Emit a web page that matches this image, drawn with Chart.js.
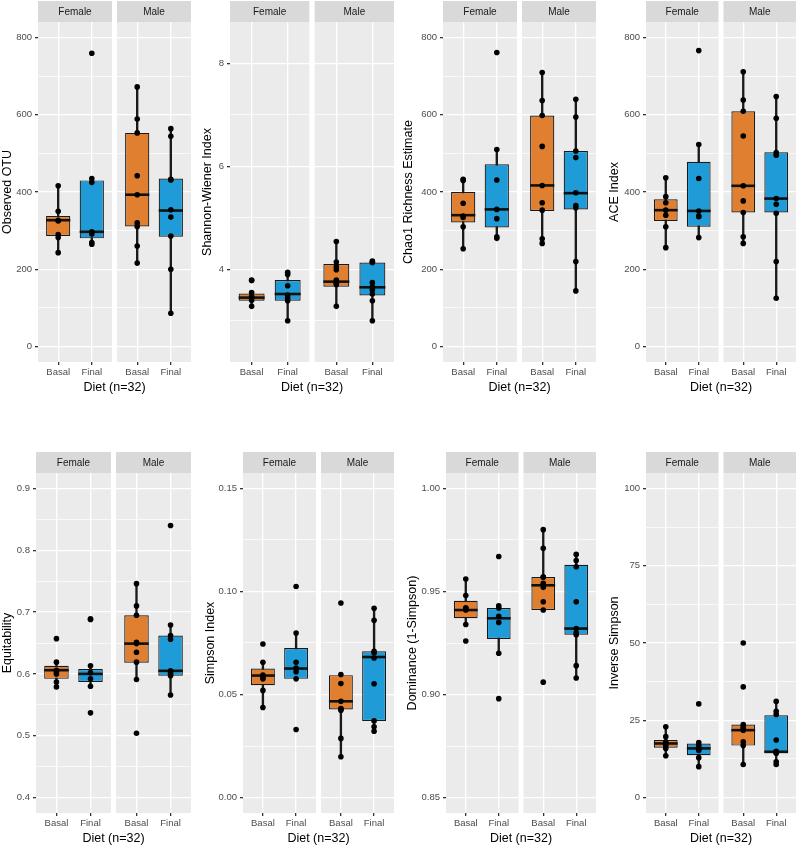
<!DOCTYPE html>
<html>
<head>
<meta charset="utf-8">
<script src="https://cdn.jsdelivr.net/npm/chart.js@4.4.1/dist/chart.umd.min.js"></script>
<style>
  body { margin: 0; background: #fff; width: 800px; height: 847px; overflow: hidden; position: relative; }
  canvas { position: absolute; }
</style>
</head>
<body>
<script>
// groups in every array: Female Basal, Female Final, Male Basal, Male Final
const facets = ['Female', 'Male'];
const diets = ['Basal', 'Final'];
const xTitle = 'Diet (n=32)';

// jittered sample points
const otuPts = [
  [416, 350, 327, 325, 290, 282, 243],
  [759, 435, 425, 297, 291, 269, 265],
  [672, 589, 553, 442, 393, 320, 311, 260, 216],
  [564, 544, 433, 431, 354, 335, 286, 200, 86]
];
// box stats: lower whisker, q1, median, q3, upper whisker
const otuBox = [[243, 286, 327, 338, 416], [265, 280, 297, 430, 435], [216, 311, 393, 553, 672], [86, 284, 352, 435, 564]];
const otuTicks = ['0', '200', '400', '600', '800'];

const shPts = [
  [3.79, 3.78, 3.55, 3.47, 3.44, 3.40, 3.28],
  [3.94, 3.90, 3.68, 3.50, 3.44, 3.39, 3.00],
  [4.54, 4.14, 4.05, 3.99, 3.79, 3.77, 3.73, 3.70, 3.28],
  [4.16, 4.14, 4.13, 3.74, 3.66, 3.60, 3.52, 3.39, 3.00]
];
const shBox = [[3.28, 3.39, 3.45, 3.53, 3.55], [3.00, 3.39, 3.52, 3.79, 3.94], [3.28, 3.66, 3.76, 4.10, 4.54], [3.00, 3.49, 3.65, 4.13, 4.16]];
const shTicks = ['4', '6', '8'];

const chaoPts = [
  [433, 430, 371, 338, 334, 310, 253],
  [761, 510, 431, 355, 331, 284, 280],
  [709, 637, 598, 518, 417, 372, 353, 279, 267],
  [640, 594, 506, 489, 398, 365, 359, 220, 144]
];
const chaoBox = [[253, 321, 340, 400, 433], [280, 308, 355, 472, 510], [267, 351, 417, 598, 709], [144, 355, 397, 506, 640]];
const chaoTicks = ['0', '200', '400', '600', '800'];

const acePts = [
  [437, 388, 372, 353, 340, 310, 256],
  [766, 523, 435, 351, 338, 336, 282],
  [711, 638, 609, 545, 416, 377, 347, 284, 267],
  [647, 591, 502, 495, 383, 368, 345, 220, 125]
];
const aceBox = [[256, 325, 353, 381, 437], [282, 310, 351, 478, 523], [267, 347, 416, 609, 711], [125, 347, 383, 503, 647]];
const aceTicks = ['0', '200', '400', '600', '800'];

const eqPts = [
  [0.657, 0.619, 0.606, 0.603, 0.600, 0.587, 0.579],
  [0.689, 0.688, 0.613, 0.602, 0.592, 0.580, 0.537],
  [0.746, 0.710, 0.695, 0.651, 0.649, 0.635, 0.619, 0.591, 0.504],
  [0.840, 0.679, 0.662, 0.656, 0.605, 0.603, 0.600, 0.597, 0.566]
];
const eqBox = [[0.579, 0.592, 0.606, 0.613, 0.619], [0.580, 0.587, 0.600, 0.608, 0.613], [0.591, 0.618, 0.649, 0.695, 0.746], [0.566, 0.597, 0.605, 0.662, 0.679]];
const eqTicks = ['0.4', '0.5', '0.6', '0.7', '0.8', '0.9'];

const simpPts = [
  [0.0745, 0.0656, 0.0594, 0.0580, 0.0576, 0.0520, 0.0437],
  [0.1024, 0.0798, 0.0656, 0.0629, 0.0610, 0.0576, 0.0330],
  [0.0944, 0.0597, 0.0553, 0.0467, 0.0432, 0.0430, 0.0424, 0.0287, 0.0198],
  [0.0919, 0.0860, 0.0710, 0.0702, 0.0677, 0.0552, 0.0372, 0.0343, 0.0322]
];
const simpBox = [[0.0437, 0.0545, 0.0592, 0.0626, 0.0656], [0.0576, 0.0576, 0.0626, 0.0726, 0.0798], [0.0198, 0.0427, 0.0467, 0.0594, 0.0594], [0.0322, 0.0372, 0.0682, 0.0710, 0.0919]];
const simpTicks = ['0.00', '0.05', '0.10', '0.15'];

const domPts = [
  [0.956, 0.948, 0.942, 0.942, 0.941, 0.934, 0.926],
  [0.967, 0.943, 0.942, 0.938, 0.935, 0.920, 0.898],
  [0.980, 0.971, 0.957, 0.957, 0.954, 0.952, 0.945, 0.941, 0.906],
  [0.968, 0.965, 0.962, 0.945, 0.932, 0.930, 0.929, 0.914, 0.908]
];
const domBox = [[0.934, 0.937, 0.941, 0.9455, 0.956], [0.920, 0.927, 0.937, 0.942, 0.942], [0.941, 0.941, 0.953, 0.957, 0.980], [0.908, 0.929, 0.932, 0.963, 0.968]];
const domTicks = ['0.85', '0.90', '0.95', '1.00'];

const invPts = [
  [22.9, 19.7, 18.0, 17.5, 16.8, 15.9, 13.5],
  [30.3, 17.8, 16.8, 15.7, 15.2, 12.9, 10.0],
  [50.0, 35.8, 23.6, 22.9, 22.3, 21.8, 18.0, 16.8, 10.7],
  [31.1, 27.9, 26.9, 18.6, 15.0, 14.6, 14.3, 11.6, 10.7]
];
const invBox = [[13.5, 16.1, 17.5, 18.6, 22.9], [10.0, 13.7, 15.9, 17.5, 17.8], [10.7, 16.8, 21.8, 23.6, 23.6], [10.7, 14.3, 14.8, 26.6, 31.1]];
const invTicks = ['0', '25', '50', '75', '100'];

const boxColors = ['#E07F2F', '#1F9CD8'];
const xPos = [1, 2, 3.35, 4.35];
const facetRanges = [[0.4, 2.6], [2.75, 4.95]];

Chart.defaults.font.family = '"Liberation Sans", Arial, sans-serif';
Chart.defaults.animation = false;

const facetPlugin = {
  id: 'facets',
  beforeDraw(chart) {
    const { ctx, chartArea: a, scales: { x } } = chart;
    ctx.save();
    facetRanges.forEach((r, i) => {
      const x0 = x.getPixelForValue(r[0]);
      const x1 = x.getPixelForValue(r[1]);
      ctx.fillStyle = '#EBEBEB';
      ctx.fillRect(x0, a.top, x1 - x0, a.bottom - a.top);
      ctx.fillStyle = '#D9D9D9';
      ctx.fillRect(x0, a.top - 21, x1 - x0, 21);
      ctx.fillStyle = '#1A1A1A';
      ctx.font = '10px "Liberation Sans", Arial, sans-serif';
      ctx.textAlign = 'center';
      ctx.textBaseline = 'middle';
      ctx.fillText(facets[i], (x0 + x1) / 2, a.top - 10);
    });
    ctx.restore();
  }
};

const panels = [
  { title: 'Observed OTU', pts: otuPts, box: otuBox, ticks: otuTicks, lim: [0, 800], left: 0, top: 0, area: [38, 191], padL: 0 },
  { title: 'Shannon-Wiener Index', pts: shPts, box: shBox, ticks: shTicks, lim: [2.5, 8.5], left: 200, top: 0, area: [30, 194], padL: 0 },
  { title: 'Chao1 Richness Estimate', pts: chaoPts, box: chaoBox, ticks: chaoTicks, lim: [0, 800], left: 400, top: 0, area: [43, 196], padL: 1 },
  { title: 'ACE Index', pts: acePts, box: aceBox, ticks: aceTicks, lim: [0, 800], left: 600, top: 0, area: [46, 197], padL: 7 },
  { title: 'Equitability', pts: eqPts, box: eqBox, ticks: eqTicks, lim: [0.4, 0.9], left: 0, top: 451, area: [36, 191], padL: 0 },
  { title: 'Simpson Index', pts: simpPts, box: simpBox, ticks: simpTicks, lim: [0, 0.15], left: 200, top: 451, area: [43, 194], padL: 3 },
  { title: 'Dominance (1-Simpson)', pts: domPts, box: domBox, ticks: domTicks, lim: [0.85, 1.0], left: 400, top: 451, area: [46, 196], padL: 5 },
  { title: 'Inverse Simpson', pts: invPts, box: invBox, ticks: invTicks, lim: [0, 100], left: 600, top: 451, area: [46, 197], padL: 7 }
];

const BOX_W = 0.72;

panels.forEach(p => {
  const canvas = document.createElement('canvas');
  canvas.width = 200;
  canvas.height = 396;
  canvas.style.left = p.left + 'px';
  canvas.style.top = p.top + 'px';
  document.body.appendChild(canvas);

  const span = p.lim[1] - p.lim[0];
  const major = p.ticks.map(Number);
  const step = major[1] - major[0];

  new Chart(canvas, {
    type: 'bar',
    data: {
      datasets: [
        {
          type: 'bar',
          data: p.box.map((b, i) => ({ x: xPos[i], y: [b[0], b[4]] })),
          backgroundColor: '#1A1A1A',
          barThickness: 1.7,
          grouped: false,
          order: 3
        },
        {
          type: 'bar',
          data: p.box.map((b, i) => ({ x: xPos[i], y: [b[1], b[3]] })),
          backgroundColor: p.box.map((b, i) => boxColors[i % 2]),
          borderColor: '#1A1A1A',
          borderWidth: 1.2,
          borderSkipped: false,
          categoryPercentage: 1,
          barPercentage: BOX_W,
          grouped: false,
          order: 2
        },
        {
          type: 'scatter',
          data: p.box.map((b, i) => ({ x: xPos[i], y: b[2] })),
          pointStyle: 'line',
          pointRadius: ctx => {
            const xs = ctx.chart.scales.x;
            return xs.getPixelForValue(1 + BOX_W / 2) - xs.getPixelForValue(1);
          },
          pointBorderColor: '#111',
          pointBorderWidth: 2.6,
          order: 1
        },
        {
          type: 'scatter',
          data: p.pts.flatMap((g, i) => g.map(v => ({ x: xPos[i], y: v }))),
          pointRadius: 2.8,
          pointBackgroundColor: '#000',
          pointBorderWidth: 0,
          order: 0
        }
      ]
    },
    options: {
      responsive: false,
      events: [],
      layout: { padding: { top: 22, left: p.padL, right: 200 - p.area[1], bottom: 0 } },
      plugins: { legend: { display: false }, tooltip: { enabled: false } },
      scales: {
        x: {
          type: 'linear',
          min: facetRanges[0][0],
          max: facetRanges[1][1],
          offset: false,
          border: { display: false },
          grid: { offset: false, color: '#FFFFFF', lineWidth: 1.3, tickColor: '#333', tickLength: 3 },
          ticks: {
            color: '#4D4D4D', font: { size: 9.5 }, padding: 2, autoSkip: false, maxRotation: 0,
            callback: (v, i) => diets[i % 2]
          },
          title: { display: true, text: xTitle, color: '#000', font: { size: 12.5 }, padding: { top: 0, bottom: 1 } },
          afterBuildTicks: s => { s.ticks = xPos.map(v => ({ value: v })); },
          afterFit: s => { s.height = 34; }
        },
        y: {
          min: p.lim[0] - span * 0.05,
          max: p.lim[1] + span * 0.05,
          border: { display: false },
          grid: {
            color: '#FFFFFF',
            lineWidth: c => (c.tick && c.tick.minor ? 0.7 : 1.3),
            tickColor: c => (c.tick && c.tick.minor ? 'rgba(0,0,0,0)' : '#333'),
            tickLength: 3
          },
          ticks: {
            color: '#4D4D4D', font: { size: 9.5 }, padding: 3, autoSkip: false,
            callback: (v, i, ts) => {
              if (ts[i].minor) return '';
              const k = major.findIndex(m => Math.abs(m - v) < step / 100);
              return k >= 0 ? p.ticks[k] : '';
            }
          },
          title: { display: true, text: p.title, color: '#000', font: { size: 12.5 }, padding: 0 },
          afterBuildTicks: s => {
            const all = major.map(v => ({ value: v }));
            [major[0] - step / 2].concat(major.map(v => v + step / 2)).forEach(v => {
              if (v > s.min && v < s.max) all.push({ value: v, minor: true });
            });
            all.sort((a, b) => a.value - b.value);
            s.ticks = all;
          },
          afterFit: s => { s.width = p.area[0] - p.padL; }
        }
      }
    },
    plugins: [facetPlugin]
  });
});
</script>
</body>
</html>
